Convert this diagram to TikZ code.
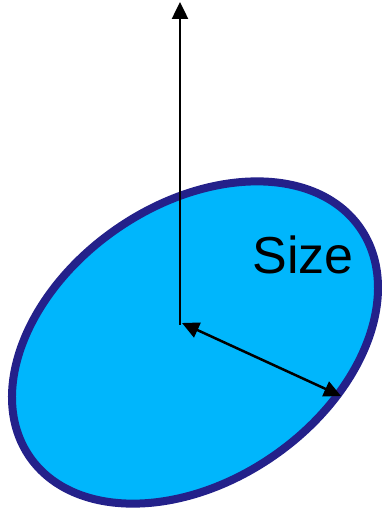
\documentclass[tikz,border=0pt]{standalone}
\usepackage{fontspec}
\setmainfont{Liberation Sans}
\usetikzlibrary{arrows.meta}
\definecolor{fillblue}{RGB}{0,182,252}
\definecolor{edgeblue}{RGB}{36,33,138}
\tikzset{
  blob/.style={fill=fillblue,draw=edgeblue,line width=8pt},
  arr/.style={line width=2.5pt,-{Triangle[length=17pt,width=16pt]}},
  darr/.style={line width=2.5pt,{Triangle[length=17pt,width=16pt]}-{Triangle[length=17pt,width=16pt]}}
}
\begin{document}
\begin{tikzpicture}[x=1pt,y=1pt]
\useasboundingbox (0,0) rectangle (382,509);
\coordinate (c) at (195,166.5);
\draw[blob,rotate around={34.7:(c)}] (c) ellipse [x radius=201, y radius=138];
\coordinate (o) at (180,184);
\coordinate (top) at (180,507);
\coordinate (s) at (182,186);
\coordinate (e) at (341,113);
\draw[arr] (o) -- (top);
\draw[darr] (s) -- (e);
\node[font=\fontsize{52}{60}\selectfont,inner sep=0pt] (lbl) at (303,254) {Size};
\end{tikzpicture}
\end{document}
